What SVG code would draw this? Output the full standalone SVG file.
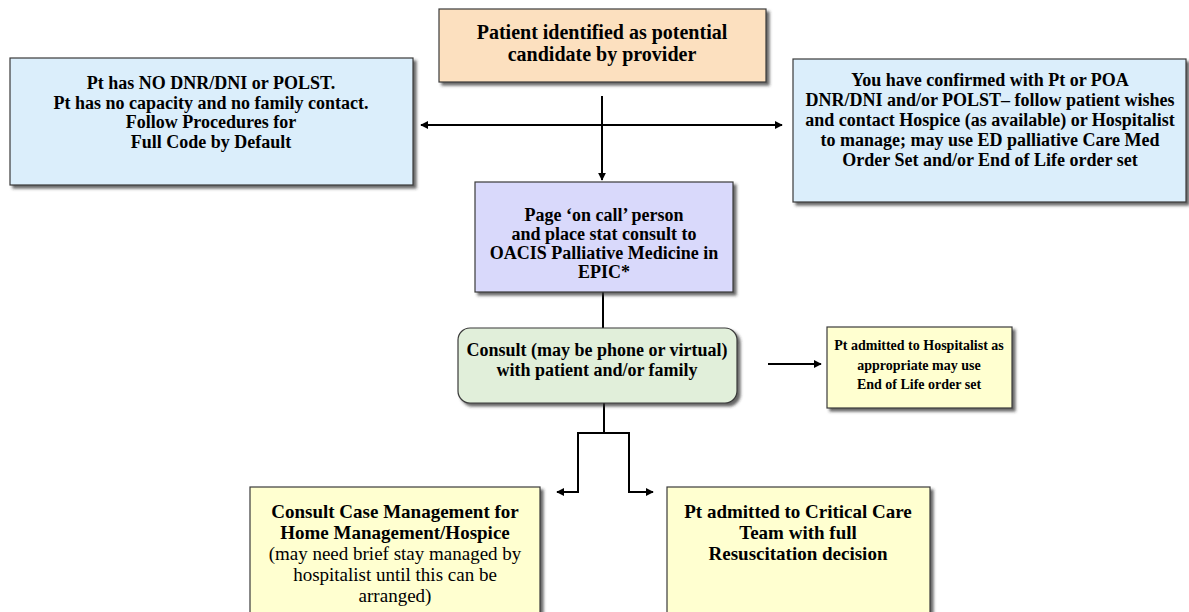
<svg xmlns="http://www.w3.org/2000/svg" width="1189" height="612" viewBox="0 0 1189 612">
<style>
.box{stroke:#3a3a3a;stroke-width:1.2;filter:url(#sh)}
.t{font-family:"Liberation Serif","Times New Roman",serif;font-weight:bold;fill:#000;text-anchor:middle}
.n{font-weight:normal}
.c{stroke:#000;stroke-width:2;fill:none}
</style>
<defs>
<filter id="sh" x="-10%" y="-10%" width="130%" height="130%">
<feDropShadow dx="3" dy="3" stdDeviation="1.5" flood-color="#333" flood-opacity="0.75"/>
</filter>
<marker id="ah" viewBox="0 0 10 10" refX="9" refY="5" markerWidth="4" markerHeight="4" orient="auto-start-reverse" markerUnits="strokeWidth">
<path d="M0,0 L10,5 L0,10 z" fill="#000"/>
</marker>
</defs>
<rect width="1189" height="612" fill="#fff"/>
<g id="connectors">
<line class="c" x1="602" y1="96" x2="602" y2="180" marker-end="url(#ah)"/>
<line class="c" x1="421" y1="125" x2="782" y2="125" marker-start="url(#ah)" marker-end="url(#ah)"/>
<line class="c" x1="603" y1="292" x2="603" y2="328"/>
<line class="c" x1="768" y1="364" x2="821" y2="364" marker-end="url(#ah)"/>
<polyline class="c" points="604,403 604,433"/>
<polyline class="c" points="557,492 578,492 578,433 629,433 629,492 653,492" marker-start="url(#ah)" marker-end="url(#ah)"/>
</g>
<g id="n1">
<rect class="box" x="439" y="9" width="327" height="73" fill="#fce0bf"/>
<text class="t" font-size="20" x="602" y="39">Patient identified as potential</text>
<text class="t" font-size="20" x="602" y="61">candidate by provider</text>
</g>
<g id="n2">
<rect class="box" x="10" y="58" width="403" height="127" fill="#dbeefb"/>
<text class="t" font-size="18" x="211" y="89">Pt has NO DNR/DNI or POLST.</text>
<text class="t" font-size="18" x="211" y="108.5">Pt has no capacity and no family contact.</text>
<text class="t" font-size="18" x="211" y="128">Follow Procedures for</text>
<text class="t" font-size="18" x="211" y="147.5">Full Code by Default</text>
</g>
<g id="n3">
<rect class="box" x="793" y="59" width="393" height="143" fill="#dbeefb"/>
<text class="t" font-size="18" x="990" y="86">You have confirmed with Pt or POA</text>
<text class="t" font-size="18" x="990" y="106">DNR/DNI and/or POLST– follow patient wishes</text>
<text class="t" font-size="18" x="990" y="126">and contact Hospice (as available) or Hospitalist</text>
<text class="t" font-size="18" x="990" y="146">to manage; may use ED palliative Care Med</text>
<text class="t" font-size="18" x="990" y="166">Order Set and/or  End of Life order set</text>
</g>
<g id="n4">
<rect class="box" x="475" y="182" width="258" height="110" fill="#d9d9fb"/>
<text class="t" font-size="18" x="604" y="221">Page ‘on call’ person</text>
<text class="t" font-size="18" x="604" y="240">and place stat consult to</text>
<text class="t" font-size="18" x="604" y="259">OACIS Palliative Medicine in</text>
<text class="t" font-size="18" x="604" y="278">EPIC*</text>
</g>
<g id="n5">
<rect class="box" x="458" y="328" width="279" height="75" rx="12" fill="#e1efda"/>
<text class="t" font-size="18" x="597" y="356">Consult (may be phone or virtual)</text>
<text class="t" font-size="18" x="597" y="376">with patient and/or family</text>
</g>
<g id="n6">
<rect class="box" x="827" y="327" width="185" height="81" fill="#ffffd0"/>
<text class="t" font-size="14" x="919" y="350">Pt admitted to Hospitalist as</text>
<text class="t" font-size="14" x="919" y="370">appropriate may use</text>
<text class="t" font-size="14" x="919" y="389">End of Life order set</text>
</g>
<g id="n7">
<rect class="box" x="250" y="487" width="290" height="140" fill="#ffffd0"/>
<text class="t" font-size="19" x="395" y="518">Consult Case Management for</text>
<text class="t" font-size="19" x="395" y="539">Home Management/Hospice</text>
<text class="t n" font-size="19" x="395" y="560">(may need brief stay managed by</text>
<text class="t n" font-size="19" x="395" y="581">hospitalist until this can be</text>
<text class="t n" font-size="19" x="395" y="602">arranged)</text>
</g>
<g id="n8">
<rect class="box" x="667" y="487" width="263" height="140" fill="#ffffd0"/>
<text class="t" font-size="19" x="798" y="518">Pt admitted to Critical Care</text>
<text class="t" font-size="19" x="798" y="539">Team with full</text>
<text class="t" font-size="19" x="798" y="560">Resuscitation decision</text>
</g>
</svg>
